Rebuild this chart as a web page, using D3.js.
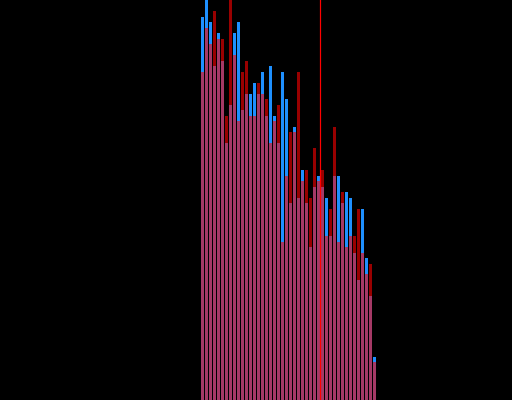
<!DOCTYPE html>
<html>
<head>
<meta charset="utf-8">
<style>
  html, body { margin: 0; padding: 0; background: #000; }
  svg { display: block; }
</style>
</head>
<body>
<div id="chart"></div>
<script src="https://d3js.org/d3.v7.min.js"></script>
<script>
var w = 512;
var h = 400;

// two overlapping series, one bar per bin
var blueValues = [95.8, 100, 94.5, 83.5, 91.8, 84.8, 64.3, 73.8, 91.8, 94.5,
                  72.5, 76.5, 76.5, 79.3, 76.5, 82, 71, 83.5, 71, 64.3,
                  82, 75.3, 49.3, 68.3, 50.5, 57.5, 49.3, 38.3, 53.3, 56,
                  53.3, 50.5, 41, 56, 56, 49.3, 52, 50.5, 36.8, 30,
                  47.8, 35.5, 26, 10.8];
var redValues = [82, 93, 89, 97.3, 90.3, 90.3, 71, 100, 86.3, 69.8,
                 82, 84.8, 71, 71, 79.3, 76.5, 75.3, 64.3, 69.8, 73.8,
                 39.5, 56, 67, 67, 82, 54.8, 57.5, 50.5, 63, 54.8,
                 57.5, 41, 47.8, 68.3, 39.5, 52, 38.3, 41, 41, 47.8,
                 36.8, 31.5, 34, 9.5];
var markerBin = 30;

var svg = d3.select("#chart").append("svg").attr("width", w).attr("height", h);

var x = d3.scaleLinear().domain([0, blueValues.length]).range([201, 377]);
var y = d3.scaleLinear().domain([0, 100]).range([h, 0]);
var barW = x(1) - x(0) - 1;

svg.selectAll("rect.blue")
     .data(blueValues)
     .enter()
     .append("rect")
     .attr("class", "blue")
     .attr("x", function (d, i) { return x(i); })
     .attr("y", function (d) { return y(d); })
     .attr("width", barW)
     .attr("height", function (d) { return h - y(d); })
     .attr("fill", "#1e90ff")
     .attr("shape-rendering", "crispEdges");

svg.selectAll("rect.red")
     .data(redValues)
     .enter()
     .append("rect")
     .attr("class", "red")
     .attr("x", function (d, i) { return x(i); })
     .attr("y", function (d) { return y(d); })
     .attr("width", barW)
     .attr("height", function (d) { return h - y(d); })
     .attr("fill", "#ff0000")
     .attr("fill-opacity", 0.6)
     .attr("shape-rendering", "crispEdges");

svg.append("line")
     .attr("x1", x(markerBin) - 0.5)
     .attr("x2", x(markerBin) - 0.5)
     .attr("y1", 0)
     .attr("y2", h)
     .attr("stroke", "#ff0000")
     .attr("stroke-width", 1.2);
</script>
</body>
</html>
